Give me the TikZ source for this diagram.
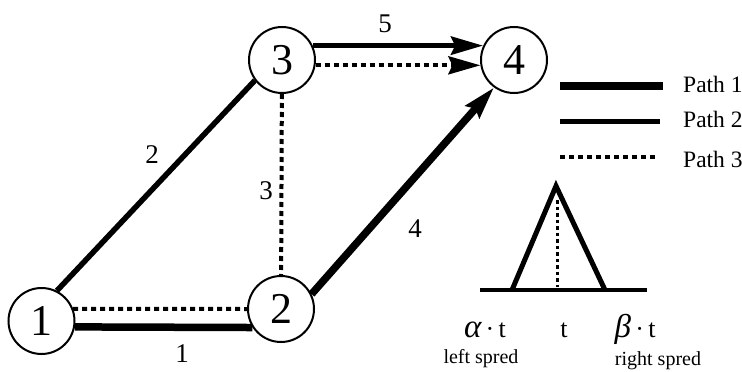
\documentclass[tikz,border=0pt]{standalone}
\usepackage{fontspec}
\setmainfont{Liberation Serif}
\usetikzlibrary{arrows.meta}
\begin{document}
\begin{tikzpicture}[x=1pt,y=-1pt,
  vertex/.style={circle,draw,line width=2pt,minimum size=66pt,inner sep=0pt,font=\fontsize{44}{44}\selectfont},
  elabel/.style={font=\fontsize{27}{27}\selectfont,inner sep=0pt},
  pathone/.style={line width=7.5pt},
  pathtwo/.style={line width=5.5pt},
  paththree/.style={line width=4pt,dash pattern=on 5pt off 4pt},
  tipped/.style={-{Stealth[length=32pt,width=18pt,inset=4pt]}},
  legtext/.style={font=\fontsize{23.5}{23.5}\selectfont,anchor=base west,inner sep=0pt},
  tlabel/.style={font=\fontsize{26}{26}\selectfont,anchor=base,inner sep=0pt},
  slabel/.style={font=\fontsize{20}{20}\selectfont,anchor=base,inner sep=0pt},
]
\useasboundingbox (0,0) rectangle (742,372);

% nodes
\node[vertex] (n1) at (41.5,321) {1};
\node[vertex] (n2) at (281,309) {2};
\node[vertex] (n3) at (282,60) {3};
\node[vertex] (n4) at (514,60) {4};

% edges
\draw[pathone] (n1.-10) -- (n2.213);
\draw[paththree] (n1.21) -- (n2.180);
\draw[pathtwo] (n1.63) -- (n3.217);
\draw[paththree] (n3) -- (n2);
\draw[pathone,tipped] (n2.26) -- (n4.234);
\draw[pathtwo,tipped] (n3.25) -- (n4.155);
\draw[paththree,tipped] (n3.-9) -- (n4.189);

% edge labels
\node[elabel] (e1) at (182,354) {1};
\node[elabel] (e2) at (152,155) {2};
\node[elabel] (e3) at (266,191) {3};
\node[elabel] (e4) at (415,229) {4};
\node[elabel] (e5) at (385,24) {5};

% legend
\node[legtext] (p1) at (683,92) {Path 1};
\node[legtext] (p2) at (683,127) {Path 2};
\node[legtext] (p3) at (683,167) {Path 3};
\draw[pathone] (560,86) -- (663,86);
\draw[line width=5pt] (560,121) -- (660,121);
\draw[paththree] (560,157) -- (658,157);

% triangular fuzzy number
\draw[line width=4.5pt] (480,290) -- (647,290);
\draw[line width=5pt,line join=miter] (512,290) -- (556,186) -- (605,290);
\draw[line width=3pt,dash pattern=on 3.5pt off 3pt] (557,200) -- (557,287);
\node[tlabel] (ta) at (485,337) {{\fontsize{33}{33}\selectfont\itshape α}\,·\,t};
\node[tlabel] (tt) at (564,337) {t};
\node[tlabel] (tb) at (635,337) {{\fontsize{33}{33}\selectfont\itshape β}\,·\,t};
\node[slabel] (ls) at (481,363) {left spred};
\node[slabel] (rs) at (658,365) {right spred};
\end{tikzpicture}
\end{document}
